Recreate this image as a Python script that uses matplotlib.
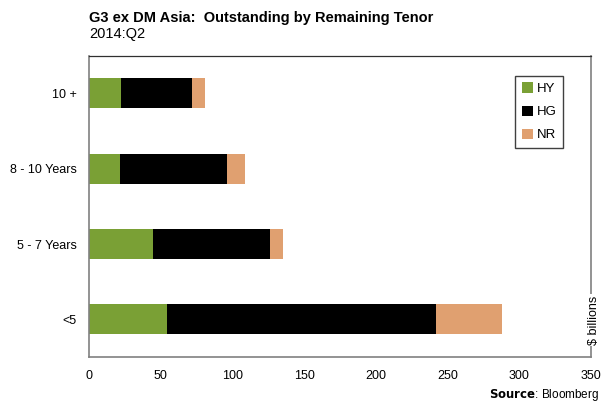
import matplotlib
matplotlib.use("Agg")
import matplotlib.pyplot as plt
import numpy as np

plt.rcParams.update({
    "font.family": ["Liberation Sans", "DejaVu Sans"],
    "font.size": 9,
})

categories = ["<5", "5 - 7 Years", "8 - 10 Years", "10 +"]
hy = [54.5, 45, 21.5, 22.5]
hg = [187.5, 81, 75, 49.5]
nr = [46, 9, 12.5, 9]

fig = plt.figure(figsize=(6.05, 4.03), dpi=100)
ax = fig.add_axes([0.147, 0.114, 0.83, 0.748])

y = np.arange(len(categories))
h = 0.4
left_hg = np.array(hy)
left_nr = left_hg + np.array(hg)
ax.barh(y, hy, h, color="#7AA035", label="HY")
ax.barh(y, hg, h, left=left_hg, color="#000000", label="HG")
ax.barh(y, nr, h, left=left_nr, color="#E0A070", label="NR")

ax.set_xlim(0, 350)
ax.set_ylim(-0.5, 3.5)
ax.set_xticks(np.arange(0, 351, 50))
ax.set_yticks(y)
ax.set_yticklabels(categories)
ax.tick_params(length=0, pad=9, labelsize=9)
for s in ax.spines.values():
    s.set_color("#808080")
    s.set_linewidth(1.2)
ax.spines["top"].set_color("#303030")
ax.spines["top"].set_linewidth(0.9)

ax.text(1.005, 0.04, "$ billions", transform=ax.transAxes, rotation=90,
        ha="center", va="bottom", fontsize=9,
        bbox=dict(facecolor="white", edgecolor="none", pad=1))

leg = ax.legend(loc="upper right", bbox_to_anchor=(0.944, 0.933), fontsize=9.5,
                handlelength=0.8, handleheight=0.8, handletextpad=0.3,
                labelspacing=0.8, borderpad=0.5, borderaxespad=0,
                fancybox=False, framealpha=1)
leg.get_frame().set_edgecolor("#404040")
leg.get_frame().set_linewidth(1.0)

fig.text(0.147, 0.955, "G3 ex DM Asia:  Outstanding by Remaining Tenor",
         fontsize=10.5, weight="bold", va="center")
fig.text(0.147, 0.915, "2014:Q2", fontsize=10.5, va="center")
fig.text(0.99, 0.02, r"$\bf{Source}$: Bloomberg", fontsize=8.5, ha="right", va="center")

plt.savefig("out.png", dpi=100)
plt.close()
